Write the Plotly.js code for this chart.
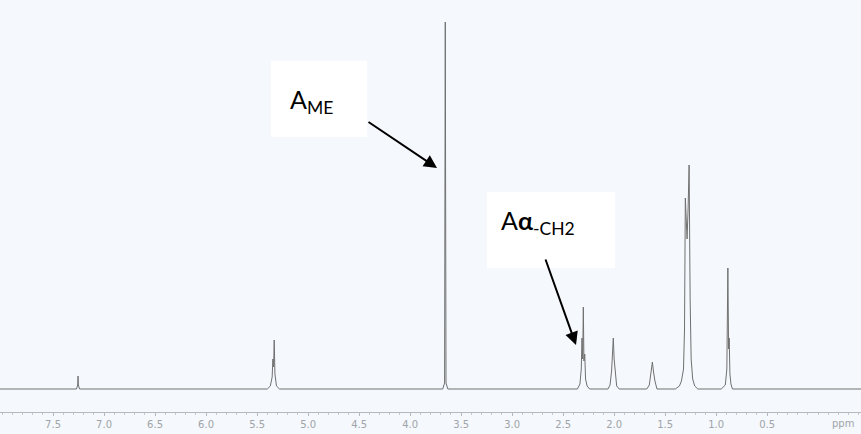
<!DOCTYPE html>
<html>
<head>
<meta charset="utf-8">
<script src="https://cdn.plot.ly/plotly-3.0.1.min.js"></script>
<style>html,body{margin:0;padding:0;background:#f5f8fc;}#chart{width:861px;height:434px;}</style>
</head>
<body>
<div id="chart"></div>
<script>
// Chemical shift (ppm) and intensity of the trace
const shiftPpm = [8.10, 7.27, 7.258, 7.255, 7.252, 7.24,
  5.40, 5.37, 5.352, 5.345, 5.338, 5.332, 5.325, 5.31, 5.28,
  3.68, 3.662, 3.655, 3.648, 3.63,
  2.36, 2.335, 2.322, 2.315, 2.308, 2.302, 2.296, 2.288, 2.28, 2.265, 2.24,
  2.06, 2.04, 2.025, 2.015, 2.008, 2.0, 1.99, 1.975, 1.95,
  1.68, 1.655, 1.64, 1.625, 1.615, 1.60, 1.58,
  1.40, 1.36, 1.34, 1.32, 1.31, 1.302, 1.295, 1.285, 1.275, 1.265, 1.255, 1.245, 1.23, 1.21, 1.18,
  0.95, 0.91, 0.895, 0.885, 0.878, 0.872, 0.865, 0.855, 0.84, -0.5];
const intensity = [0, 0, 4, 13, 4, 0,
  0, 3, 12, 30, 22, 49, 15, 3, 0,
  0, 6, 367, 6, 0,
  0, 5, 20, 51, 30, 82, 28, 35, 10, 3, 0,
  0, 4, 18, 35, 51, 30, 15, 3, 0,
  0, 4, 14, 27, 18, 8, 0,
  0, 3, 8, 20, 60, 191, 165, 150, 180, 224, 90, 30, 10, 3, 0,
  0, 4, 20, 121, 40, 51, 15, 5, 0, 0];
const tickValues = [7.5, 7.0, 6.5, 6.0, 5.5, 5.0, 4.5, 4.0, 3.5, 3.0, 2.5, 2.0, 1.5, 1.0, 0.5];
const tickLabels = ["7.5", "7.0", "6.5", "6.0", "5.5", "5.0", "4.5", "4.0", "3.5", "3.0", "2.5", "2.0", "1.5", "1.0", "0.5"];

const W = 861, PH = 412;
const px = v => v / W;
const py = v => (PH - v) / PH;

const trace = {
  x: shiftPpm, y: intensity, type: 'scatter', mode: 'lines',
  line: {color: '#707070', width: 1}, hoverinfo: 'skip'
};

const layout = {
  width: 861, height: 434,
  margin: {l: 0, r: 0, t: 0, b: 22},
  paper_bgcolor: '#f5f8fc', plot_bgcolor: '#f5f8fc',
  showlegend: false,
  xaxis: {
    range: [8.02, -0.42], tickvals: tickValues, ticktext: tickLabels,
    ticks: 'outside', ticklen: 3, tickcolor: '#b5b8bc',
    showline: true, linecolor: '#b5b8bc', linewidth: 1,
    showgrid: false, zeroline: false,
    tickfont: {family: 'DejaVu Sans', size: 10, color: '#a0a4a8'},
    minor: {dtick: 0.1, ticks: 'outside', ticklen: 2, tickcolor: '#c5c8cc', showgrid: false}
  },
  yaxis: {range: [-23, 389], visible: false, fixedrange: true},
  shapes: [
    {type: 'rect', xref: 'paper', yref: 'paper', x0: px(271), x1: px(367), y0: py(137), y1: py(61),
     fillcolor: '#ffffff', line: {width: 0}, layer: 'above'},
    {type: 'rect', xref: 'paper', yref: 'paper', x0: px(487), x1: px(615), y0: py(268), y1: py(192),
     fillcolor: '#ffffff', line: {width: 0}, layer: 'above'}
  ],
  annotations: [
    {xref: 'paper', yref: 'paper', x: px(288), y: py(101), xanchor: 'left', yanchor: 'middle',
     text: 'A<sub>ME</sub>', showarrow: false, font: {family: 'Lato', size: 25, color: '#000'}},
    {xref: 'paper', yref: 'paper', x: px(499), y: py(222), xanchor: 'left', yanchor: 'middle',
     text: 'A<b>α</b><sub>-CH2</sub>', showarrow: false, font: {family: 'Lato', size: 25, color: '#000'}},
    {xref: 'paper', yref: 'paper', x: px(437), y: py(168), text: '', showarrow: true,
     axref: 'pixel', ayref: 'pixel', ax: -70, ay: -47,
     arrowhead: 2, arrowsize: 1.3, arrowwidth: 2, arrowcolor: '#000'},
    {xref: 'paper', yref: 'paper', x: px(576), y: py(345), text: '', showarrow: true,
     axref: 'pixel', ayref: 'pixel', ax: -31, ay: -87,
     arrowhead: 2, arrowsize: 1.3, arrowwidth: 2, arrowcolor: '#000'},
    {xref: 'paper', yref: 'paper', x: px(843), y: py(423), xanchor: 'center', yanchor: 'middle',
     text: 'ppm', showarrow: false, font: {family: 'DejaVu Sans', size: 10, color: '#a0a4a8'}}
  ]
};

Plotly.newPlot('chart', [trace], layout, {staticPlot: true, displayModeBar: false});
</script>
</body>
</html>
